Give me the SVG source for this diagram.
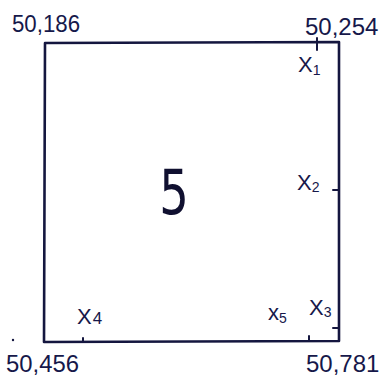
<svg xmlns="http://www.w3.org/2000/svg" width="379" height="380" viewBox="0 0 379 380">
<style>
.ln{fill:none;stroke:#14163f;stroke-width:2.6;stroke-linecap:round;stroke-linejoin:round}
.tk{fill:none;stroke:#14163f;stroke-width:2;stroke-linecap:round}
.num{font-family:"Liberation Sans",Arial,sans-serif;font-size:24px;fill:#16184a}
.lab{font-family:"Liberation Sans",Arial,sans-serif;font-size:22px;fill:#16184a}
.sub{font-size:14px}
</style>
<rect width="379" height="380" fill="#ffffff"/>
<g id="square">
<path class="ln" d="M45 43 L339 42 L339 341 L44 342 Z"/>
<path class="tk" d="M317 38 L317 50"/>
<path class="tk" d="M333 190 L338 190"/>
<path class="tk" d="M333 328 L338 328"/>
<path class="tk" d="M309 336 L309 341"/>
<path class="tk" d="M83 338 L83 342"/>
<circle cx="13" cy="340" r="1.2" fill="#14163f"/>
</g>
<g id="corners">
<text class="num" x="12" y="32" textLength="68" lengthAdjust="spacingAndGlyphs">50,186</text>
<text class="num" x="305" y="35" font-size="23">50,254</text>
<text class="num" x="6" y="372" textLength="73" lengthAdjust="spacingAndGlyphs">50,456</text>
<text class="num" x="306" y="372" font-size="22">50,781</text>
</g>
<g id="labels">
<text class="lab" x="298" y="72">X<tspan class="sub" dy="3">1</tspan></text>
<text class="lab" x="297" y="190">X<tspan class="sub" dy="2" font-size="18">2</tspan></text>
<text class="lab" x="309" y="315">X<tspan class="sub" dy="2" font-size="16">3</tspan></text>
<text class="lab" x="268" y="320">x<tspan class="sub" dy="3" font-size="15">5</tspan></text>
<text class="lab" x="77" y="324">X<tspan dx="1" font-size="17">4</tspan></text>
</g>
<g id="center">
<text x="174" y="214" text-anchor="middle" font-family="DejaVu Sans, sans-serif" font-size="62" fill="#101030" transform="translate(174 0) scale(0.75 1) translate(-174 0)">5</text>
</g>
</svg>
